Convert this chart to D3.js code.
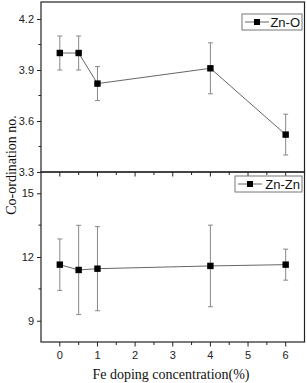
<!DOCTYPE html>
<html>
<head>
<meta charset="utf-8">
<script src="https://cdn.jsdelivr.net/npm/d3@7"></script>
<style>
  body { margin: 0; background: #fff; }
  svg { display: block; }
</style>
</head>
<body>
<div id="chart"></div>
<script>
// data
const feConc = [0, 0.5, 1, 4, 6];
const znO = [4.00, 4.00, 3.82, 3.91, 3.52];
const znOErr = [0.10, 0.10, 0.10, 0.15, 0.12];
const znZn = [11.64, 11.39, 11.45, 11.58, 11.64];
const znZnErr = [1.21, 2.10, 1.98, 1.92, 0.73];
const xTicks = [0, 1, 2, 3, 4, 5, 6];
const yTicksTop = [3.3, 3.6, 3.9, 4.2];
const yTicksBottom = [9, 12, 15];

const W = 307, H = 383;
const left = 41, right = 304.5;

const svg = d3.select("#chart")
    .append("svg")
    .attr("width", W)
    .attr("height", H);

const x = d3.scaleLinear().domain([-0.5, 6.5]).range([left, right]);

const panels = [
    { name: "Zn-O", vals: znO, errs: znOErr, y: d3.scaleLinear().domain([3.3, 4.3]).range([172, 2]),
      ticks: yTicksTop, minor: [3.45, 3.75, 4.05], fmt: d3.format(".1f"), leg: [242, 14, 60] },
    { name: "Zn-Zn", vals: znZn, errs: znZnErr, y: d3.scaleLinear().domain([8, 16]).range([342, 172]),
      ticks: yTicksBottom, minor: [10.5, 13.5], fmt: d3.format("d"), leg: [235, 176, 67] }
];

const halfTicks = d3.range(-0.5, 6.6, 0.5).filter(v => v > -0.5 && v < 6.5);

panels.forEach(function (p, k) {
    const y = p.y;
    const top = y.range()[1], bottom = y.range()[0];
    const g = svg.append("g");

    // frame
    g.append("rect")
        .attr("x", left).attr("y", top)
        .attr("width", right - left).attr("height", bottom - top)
        .attr("fill", "none").attr("stroke", "#222").attr("stroke-width", 1.2);

    // y axis
    const ya = g.append("g")
        .attr("transform", `translate(${left},0)`)
        .call(d3.axisLeft(y).tickValues(p.ticks).tickFormat(p.fmt).tickSize(4).tickPadding(3));
    ya.select(".domain").remove();
    ya.selectAll("text").attr("font-family", "Liberation Sans, Arial, sans-serif").attr("font-size", 11).attr("fill", "#222");
    ya.selectAll("line").attr("stroke", "#222");

    g.selectAll(".yminor")
        .data(p.minor)
        .join("line")
        .attr("x1", left - 2.5).attr("x2", left)
        .attr("y1", d => y(d)).attr("y2", d => y(d))
        .attr("stroke", "#222");

    // x ticks on the bottom of each panel
    g.selectAll(".xt")
        .data(halfTicks)
        .join("line")
        .attr("x1", d => x(d)).attr("x2", d => x(d))
        .attr("y1", bottom)
        .attr("y2", d => bottom + (Number.isInteger(d) ? 4.5 : 3))
        .attr("stroke", "#222");

    // connecting line
    const line = d3.line().x((d, i) => x(feConc[i])).y(d => y(d));
    g.append("path")
        .datum(p.vals)
        .attr("d", line)
        .attr("fill", "none")
        .attr("stroke", "#666")
        .attr("stroke-width", 1);

    // error bars
    const eb = g.selectAll(".eb")
        .data(p.vals)
        .join("g")
        .attr("stroke", "#888")
        .attr("stroke-width", 1);
    eb.append("line")
        .attr("x1", (d, i) => x(feConc[i])).attr("x2", (d, i) => x(feConc[i]))
        .attr("y1", (d, i) => y(d + p.errs[i])).attr("y2", (d, i) => y(d - p.errs[i]));
    eb.append("line")
        .attr("x1", (d, i) => x(feConc[i]) - 2.5).attr("x2", (d, i) => x(feConc[i]) + 2.5)
        .attr("y1", (d, i) => y(d + p.errs[i])).attr("y2", (d, i) => y(d + p.errs[i]));
    eb.append("line")
        .attr("x1", (d, i) => x(feConc[i]) - 2.5).attr("x2", (d, i) => x(feConc[i]) + 2.5)
        .attr("y1", (d, i) => y(d - p.errs[i])).attr("y2", (d, i) => y(d - p.errs[i]));

    // markers
    g.selectAll(".pt")
        .data(p.vals)
        .join("rect")
        .attr("x", (d, i) => x(feConc[i]) - 3.2)
        .attr("y", d => y(d) - 3.2)
        .attr("width", 6.4).attr("height", 6.4)
        .attr("fill", "#000");

    // legend
    const [lx, ly, lw] = p.leg;
    const lg = g.append("g").attr("transform", `translate(${lx},${ly})`);
    lg.append("rect")
        .attr("width", lw).attr("height", 16)
        .attr("fill", "#fff").attr("stroke", "#777").attr("stroke-width", 1);
    lg.append("line")
        .attr("x1", 3).attr("x2", 27).attr("y1", 8).attr("y2", 8)
        .attr("stroke", "#666");
    lg.append("rect")
        .attr("x", 12).attr("y", 5).attr("width", 6).attr("height", 6).attr("fill", "#000");
    lg.append("text")
        .attr("x", lw - 2).attr("y", 12.5)
        .attr("text-anchor", "end")
        .attr("font-family", "Liberation Sans, Arial, sans-serif")
        .attr("font-size", 13)
        .attr("fill", "#111")
        .text(p.name);
});

// x tick labels
svg.append("g")
    .selectAll("text")
    .data(xTicks)
    .join("text")
    .attr("x", d => x(d))
    .attr("y", 359)
    .attr("text-anchor", "middle")
    .attr("font-family", "Liberation Sans, Arial, sans-serif")
    .attr("font-size", 11)
    .attr("fill", "#222")
    .text(d => d);

// axis titles
svg.append("text")
    .attr("x", 171).attr("y", 379)
    .attr("text-anchor", "middle")
    .attr("style", "font-family: 'Liberation Serif', 'Times New Roman', serif; font-size: 14px; fill: #111")
    .text("Fe doping concentration(%)");

svg.append("text")
    .attr("transform", "translate(16,165) rotate(-90)")
    .attr("text-anchor", "middle")
    .attr("style", "font-family: 'Liberation Serif', 'Times New Roman', serif; font-size: 14px; fill: #111")
    .text("Co-ordination no.");
</script>
</body>
</html>
